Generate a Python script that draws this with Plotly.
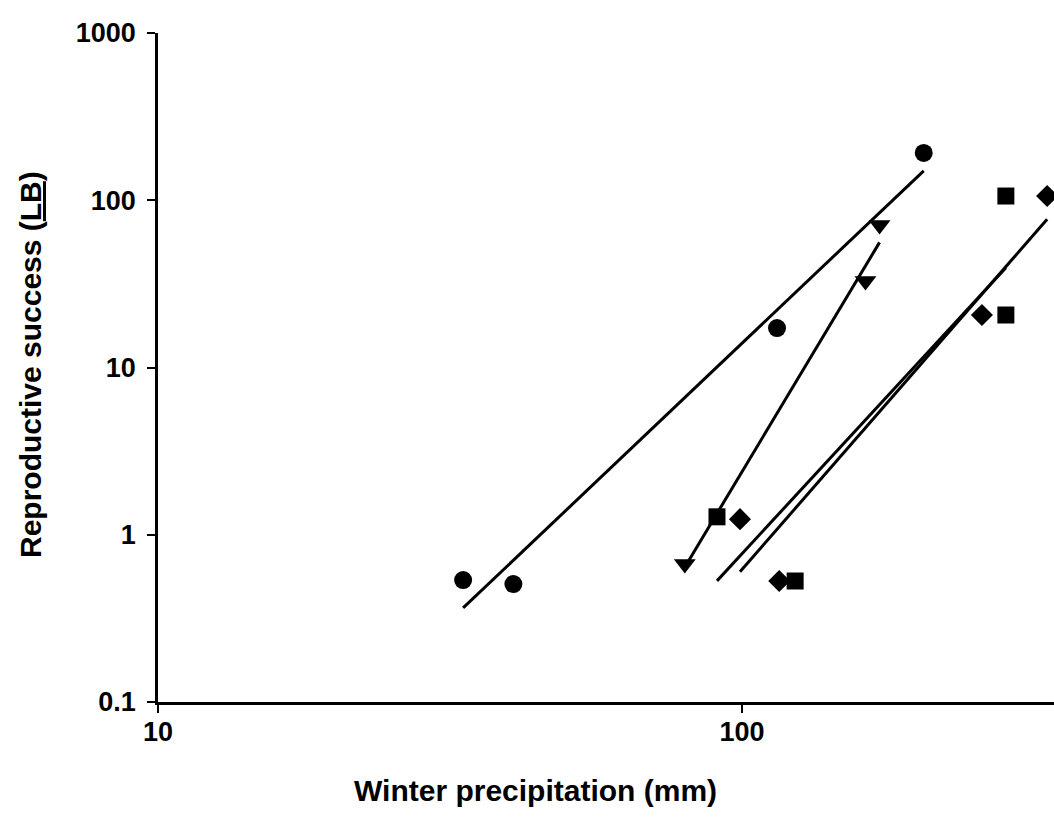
import plotly.graph_objects as go

# ---- data ----
circle_x = [33.3, 40.6, 114.8, 204.7]
circle_y = [0.536, 0.507, 17.2, 191.7]
triangle_x = [79.8, 162.7, 172.0]
triangle_y = [0.668, 32.9, 71.1]
square_x = [90.6, 123.3, 283.0, 283.0]
square_y = [1.28, 0.529, 106.0, 20.6]
diamond_x = [99.2, 115.8, 257.5, 333.0]
diamond_y = [1.24, 0.529, 20.6, 106.0]

# fitted (log-log) regression lines, endpoints
circle_fit_x = [33.3, 204.7]
circle_fit_y = [0.365, 150.0]
triangle_fit_x = [79.8, 172.0]
triangle_fit_y = [0.64, 56.0]
square_fit_x = [90.6, 283.0]
square_fit_y = [0.53, 39.5]
diamond_fit_x = [99.2, 333.0]
diamond_fit_y = [0.60, 77.0]

x_tickvals = [10, 100]
x_ticktext = ["<b>10</b>", "<b>100</b>"]
y_tickvals = [0.1, 1, 10, 100, 1000]
y_ticktext = ["<b>0.1</b>", "<b>1</b>", "<b>10</b>", "<b>100</b>", "<b>1000</b>"]

x_title = "<b>Winter precipitation (mm)</b>"
y_title = "<b>Reproductive success (<u>LB</u>)</b>"

FONT = "Liberation Sans, Arial, sans-serif"

fig = go.Figure()

for fx, fy in [(circle_fit_x, circle_fit_y), (triangle_fit_x, triangle_fit_y),
               (square_fit_x, square_fit_y), (diamond_fit_x, diamond_fit_y)]:
    fig.add_trace(go.Scatter(x=fx, y=fy, mode="lines",
                             line=dict(color="black", width=3),
                             showlegend=False, hoverinfo="skip", cliponaxis=False))

series = [
    (circle_x, circle_y, "circle", 18),
    (triangle_x, triangle_y, "triangle-down", 19),
    (square_x, square_y, "square", 17),
    (diamond_x, diamond_y, "diamond", 17),
]
for sx, sy, sym, size in series:
    fig.add_trace(go.Scatter(x=sx, y=sy, mode="markers",
                             marker=dict(symbol=sym, size=size, color="black",
                                         line=dict(width=0)),
                             showlegend=False, cliponaxis=False))

fig.update_layout(
    width=1054, height=823,
    margin=dict(l=158, r=0, t=33, b=121),
    paper_bgcolor="white", plot_bgcolor="white",
    font=dict(family=FONT, color="black", size=26),
    xaxis=dict(
        type="log", range=[1, 2.5342],
        tickvals=x_tickvals, ticktext=x_ticktext,
        ticks="outside", ticklen=8, tickwidth=2, tickcolor="black",
        showline=True, linecolor="black", linewidth=2.5,
        showgrid=False, zeroline=False,
        tickfont=dict(size=27, family=FONT),
        ticklabelstandoff=-4,
    ),
    yaxis=dict(
        type="log", range=[-1, 3],
        tickvals=y_tickvals, ticktext=y_ticktext,
        ticks="outside", ticklen=8, tickwidth=2, tickcolor="black",
        showline=True, linecolor="black", linewidth=2.5,
        showgrid=False, zeroline=False,
        tickfont=dict(size=27, family=FONT),
        ticklabelstandoff=6,
    ),
    annotations=[
        dict(text=x_title, xref="paper", yref="paper",
             x=(535 - 158) / 896, y=(702 - 790) / 669,
             xanchor="center", yanchor="middle", showarrow=False,
             font=dict(size=30, family=FONT, color="black")),
        dict(text=y_title, xref="paper", yref="paper",
             x=(30 - 158) / 896, y=(702 - 365) / 669, textangle=-90,
             xanchor="center", yanchor="middle", showarrow=False,
             font=dict(size=30, family=FONT, color="black")),
    ],
)

fig.write_html("out.html")
